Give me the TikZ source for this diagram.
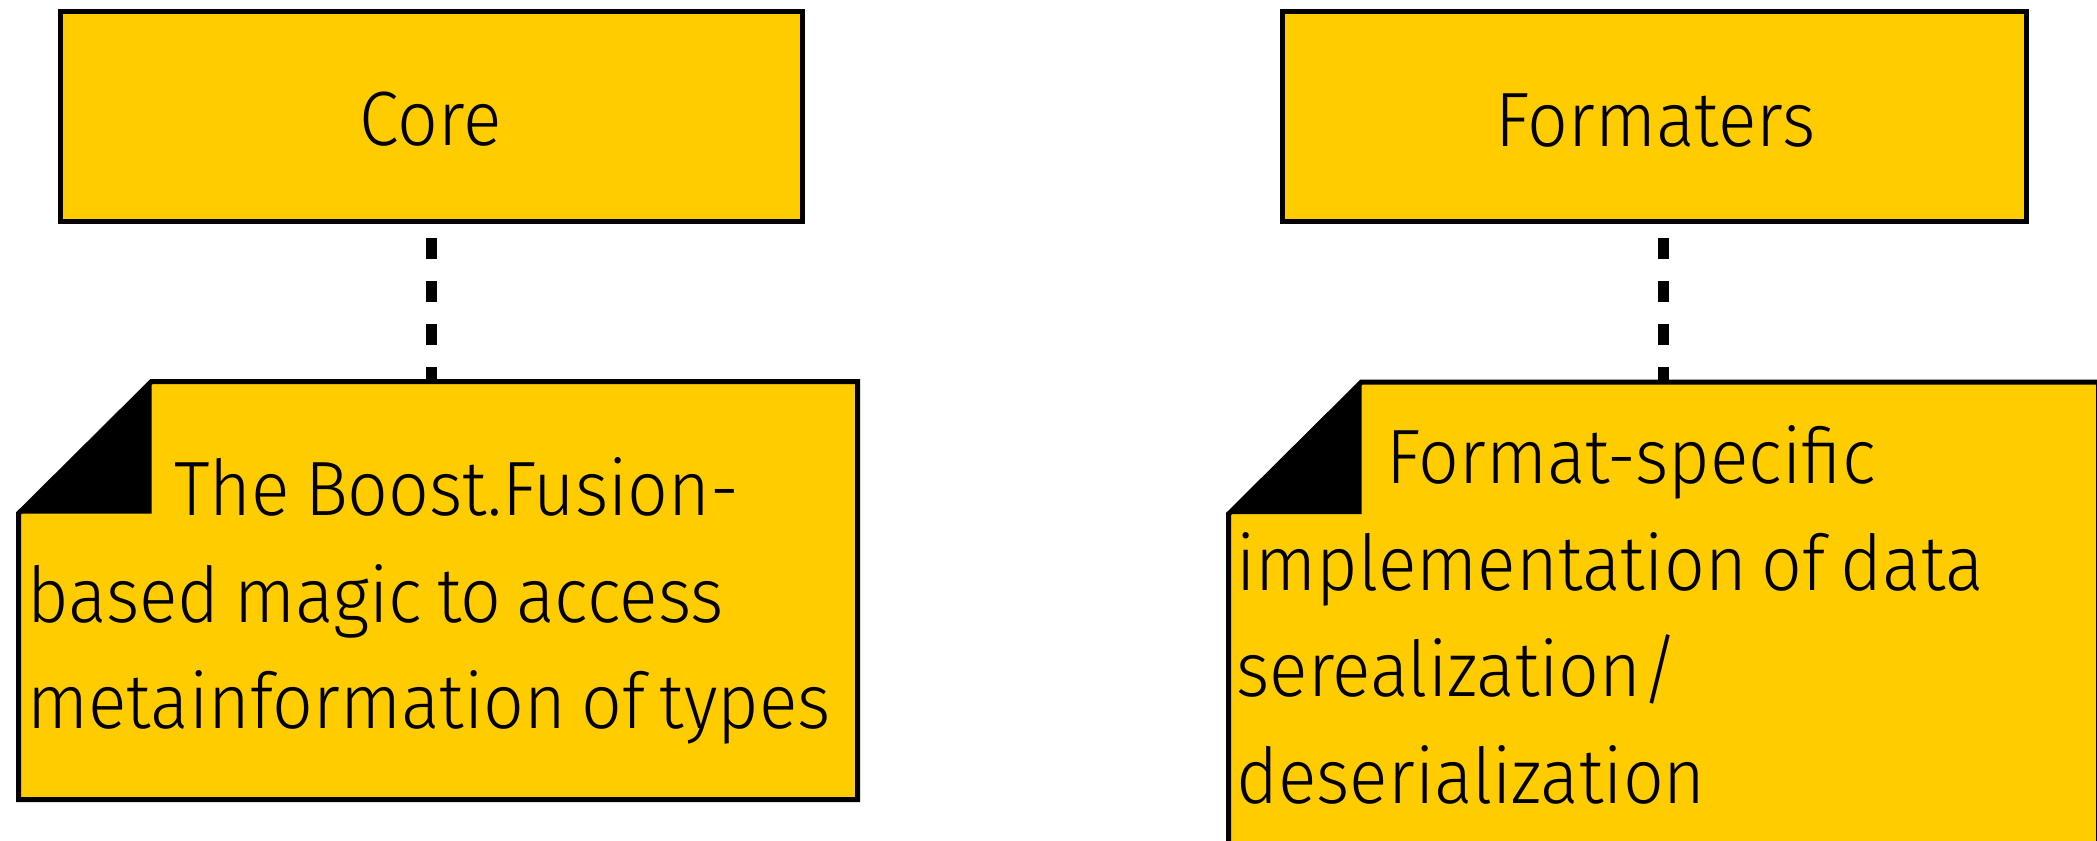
\documentclass[tikz,border=0pt]{standalone}
\usepackage{fontspec}
\setmainfont{Fira Sans Light}[FakeStretch=0.93, WordSpace=0.75]
\usetikzlibrary{calc}
\definecolor{noteyellow}{HTML}{FFCC00}
\tikzset{
  pkgbox/.style={draw=black, fill=noteyellow, line width=2.5pt, inner sep=0pt, outer sep=0pt},
  notearea/.style={inner sep=0pt, outer sep=0pt, anchor=north west},
  noteshape/.style={draw=black, fill=noteyellow, line width=2.5pt, line join=miter},
  notefold/.style={fill=black},
  link/.style={draw=black, line width=5.5pt, dash pattern=on 10.5pt off 11pt},
  boxlabel/.style={inner sep=0pt, anchor=base, font=\fontsize{38.5}{46}\selectfont},
  noteline/.style={inner sep=0pt, anchor=base west, font=\fontsize{38.5}{46}\selectfont},
}
\begin{document}
\begin{tikzpicture}[x=0.5pt, y=-0.5pt]
  \useasboundingbox (0,0) rectangle (2097,840);
  \clip (0,0) rectangle (2097,840);

  % package boxes
  \node[pkgbox, minimum width=370.75pt, minimum height=104.5pt] (core) at (431.25,116.5) {};
  \node[pkgbox, minimum width=372pt, minimum height=104.5pt] (fmt) at (1654,116.5) {};
  \node[boxlabel] (corelabel) at (430.5,145) {Core};
  \node[boxlabel] (fmtlabel) at (1655.5,146.5) {Formaters};

  % note areas
  \node[notearea, minimum width=419.5pt, minimum height=209pt] (n1) at (18.5,381.5) {};
  \node[notearea, minimum width=435pt, minimum height=260pt] (n2) at (1228.5,382) {};

  % note outlines with folded corner
  \foreach \n in {n1,n2}{
    \path[noteshape] ($(\n.north west)+(133,0)$) -- (\n.north east) -- (\n.south east)
      -- (\n.south west) -- ($(\n.north west)+(0,132)$) -- cycle;
    \path[notefold] ($(\n.north west)+(133,0)$) -- ($(\n.north west)+(133,132)$)
      -- ($(\n.north west)+(0,132)$) -- cycle;
  }

  % dashed connectors
  \path[link, shorten <=8.5pt] (core.south) -- (core.south |- n1.north);
  \path[link, shorten <=8.5pt] ([xshift=4.5pt]fmt.south) -- ([xshift=4.5pt]fmt.south |- n2.north);

  % note texts
  \node[noteline] (n1a) at (174,515) {The Boost.Fusion-};
  \node[noteline] (n1b) at (27,622) {based magic to access};
  \node[noteline] (n1c) at (27,728) {metainformation of types};

  \node[noteline] (n2a) at (1386,483) {Format-specific};
  \node[noteline] (n2b) at (1236,590) {implementation of data};
  \node[noteline] (n2c) at (1236,696) {serealization/};
  \node[noteline] (n2d) at (1236,803) {deserialization};
\end{tikzpicture}
\end{document}
